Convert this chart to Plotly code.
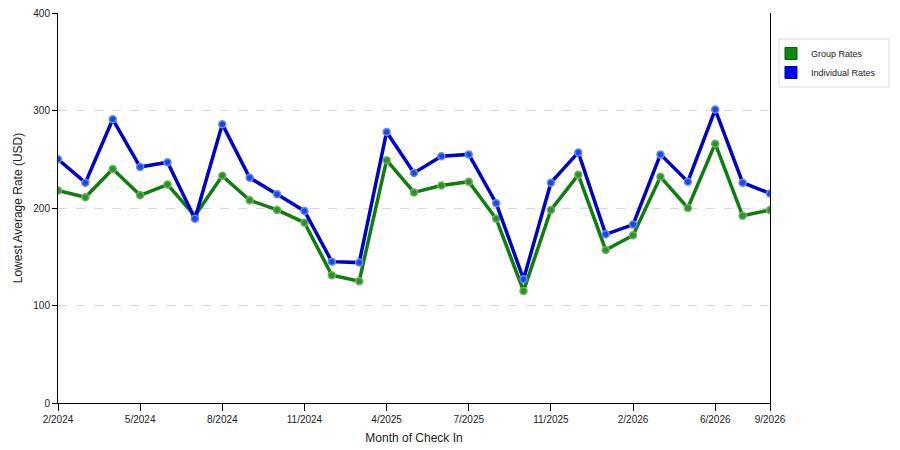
import plotly.graph_objects as go

# month of check in (category axis, only some labels shown)
months = ["2/2024", "3/2024", "4/2024", "5/2024", "6/2024", "7/2024", "8/2024", "9/2024",
          "10/2024", "11/2024", "12/2024", "2/2025", "4/2025", "5/2025", "6/2025", "7/2025",
          "8/2025", "10/2025", "11/2025", "12/2025", "1/2026", "2/2026", "3/2026", "5/2026",
          "6/2026", "8/2026", "9/2026"]
tick_labels = ["2/2024", "5/2024", "8/2024", "11/2024", "4/2025", "7/2025",
               "11/2025", "2/2026", "6/2026", "9/2026"]

group_rates = [218, 211, 240, 213, 224, 192, 233, 208, 198, 185, 131, 125, 249, 216,
               223, 227, 189, 115, 198, 234, 157, 172, 232, 200, 266, 192, 198]
individual_rates = [250, 226, 291, 242, 247, 189, 286, 231, 214, 197, 145, 144, 278, 236,
                    253, 255, 205, 127, 226, 257, 173, 183, 255, 227, 301, 226, 215]

fig = go.Figure()

# data lines
fig.add_trace(go.Scatter(x=months, y=group_rates, mode="lines+markers", showlegend=False,
                         line=dict(color="#0f7d0f", width=3.5),
                         marker=dict(size=7, color="#2f8f2f", line=dict(color="#6cb25c", width=1.5))))
fig.add_trace(go.Scatter(x=months, y=individual_rates, mode="lines+markers", showlegend=False,
                         line=dict(color="#0000cc", width=3.5),
                         marker=dict(size=7, color="#1a4ae0", line=dict(color="#6a8af0", width=1.5))))

# legend entries with square swatches
fig.add_trace(go.Scatter(x=[None], y=[None], mode="markers", name="Group Rates",
                         marker=dict(symbol="square", size=12, color="#118811",
                                     line=dict(color="#0a5a0a", width=1))))
fig.add_trace(go.Scatter(x=[None], y=[None], mode="markers", name="Individual Rates",
                         marker=dict(symbol="square", size=12, color="#0000ff",
                                     line=dict(color="#00008a", width=1))))

fig.update_xaxes(type="category", categoryorder="array", categoryarray=months,
                 range=[0, len(months) - 1], tickvals=tick_labels, ticktext=tick_labels,
                 showgrid=False, showline=True, linecolor="black", linewidth=1,
                 ticks="outside", ticklen=7, tickcolor="black", zeroline=False,
                 automargin=False, title=dict(text="Month of Check In", standoff=9))
fig.update_yaxes(range=[0, 400], tickvals=[0, 100, 200, 300, 400],
                 showgrid=True, gridcolor="#d8d8d8", griddash="dash", gridwidth=1,
                 showline=True, mirror=True, linecolor="black", linewidth=1,
                 ticks="outside", ticklen=5, tickcolor="black", zeroline=False,
                 ticklabeloverflow="allow",
                 automargin=False, title=dict(text="Lowest Average Rate (USD)", standoff=8))

# legend frame drawn separately so the swatches can sit closer to the border
fig.add_shape(type="rect", xref="paper", yref="paper",
              x0=1.0126, x1=1.1671, y0=0.8103, y1=0.9333,
              line=dict(color="#dddddd", width=1), fillcolor="rgba(0,0,0,0)")

# page body adds an 8px offset, so the figure is sized to fit the window
fig.update_layout(
    width=892, height=442,
    margin=dict(l=50, r=130, t=5, b=47),
    plot_bgcolor="white", paper_bgcolor="white",
    font=dict(family="Liberation Sans, Arial, sans-serif", size=10, color="#222222"),
    legend=dict(x=1.0014, y=0.9333, xanchor="left", yanchor="top",
                borderwidth=0, bgcolor="rgba(0,0,0,0)",
                font=dict(size=9), tracegroupgap=2, itemwidth=30),
    hovermode="x",
)

fig.write_html("out.html")
